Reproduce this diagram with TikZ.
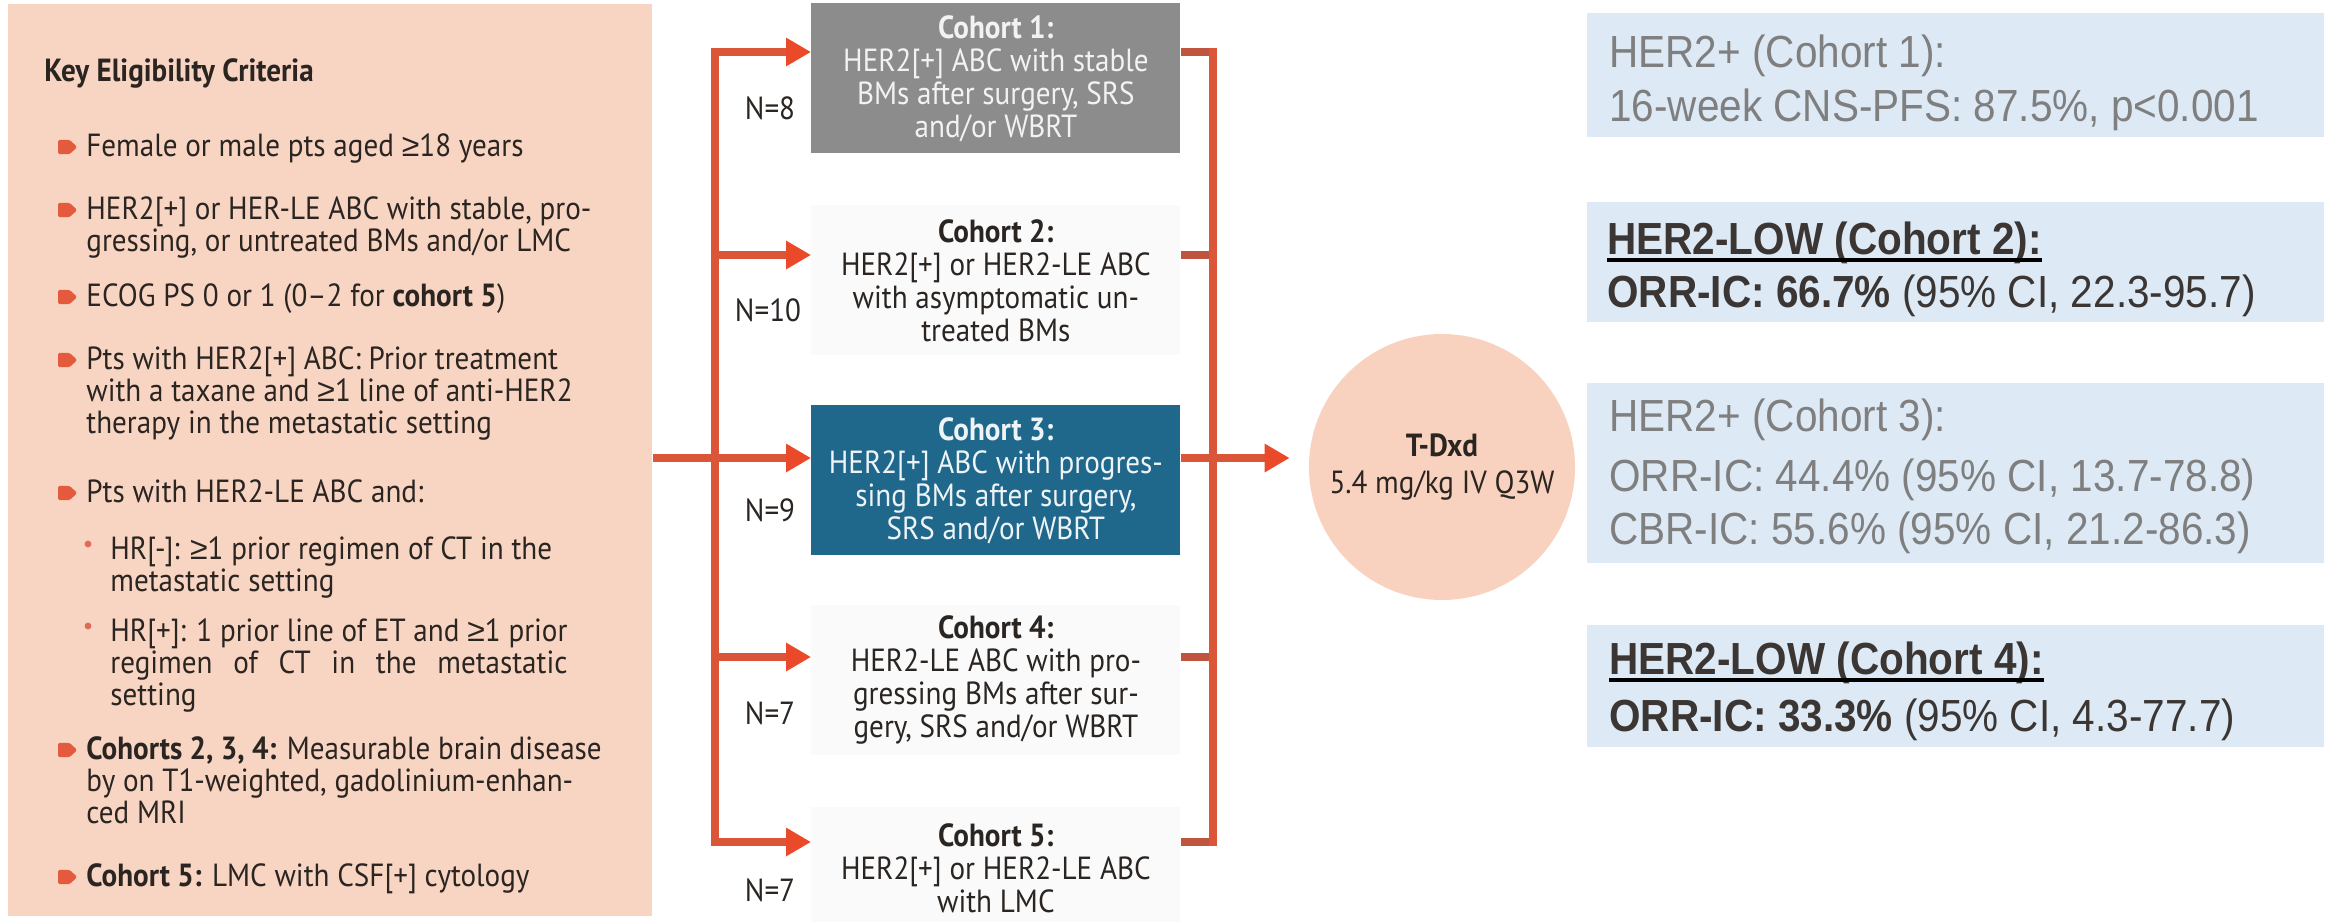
\documentclass[tikz,border=0pt]{standalone}
\usepackage{fontspec}
\setmainfont{PT Sans}[FakeStretch=0.91]
\newfontfamily\resfont{Liberation Sans}[FakeStretch=0.9]
\newfontfamily\signfont{Liberation Sans}
\newcommand\gesign{{\signfont ≥}}
\usetikzlibrary{arrows.meta}

\definecolor{panelpeach}{HTML}{F8D5C2}
\definecolor{circpeach}{HTML}{F8D2BE}
\definecolor{critink}{HTML}{2B2522}
\definecolor{bulletred}{HTML}{E35B3C}
\definecolor{dotred}{HTML}{E06A55}
\definecolor{linered}{HTML}{DB5638}
\definecolor{tipred}{HTML}{EA4A2A}
\definecolor{stubred}{HTML}{C0553F}
\definecolor{cgray}{HTML}{8C8C8C}
\definecolor{cteal}{HTML}{1F688C}
\definecolor{cpale}{HTML}{FAFAFA}
\definecolor{resblue}{HTML}{DDEAF6}
\definecolor{resgray}{HTML}{7F7F7F}
\definecolor{resdark}{HTML}{3B3633}

\newcommand\critfont{\fontsize{16pt}{16.5pt}\selectfont}
\newlength\hrpluswidth

\tikzset{
  crit/.style={anchor=base west, inner sep=0pt, text=critink, font=\critfont},
  cohortbox/.style={anchor=north west, inner sep=0pt, minimum width=184.5pt,
    minimum height=75pt, align=center, font=\critfont},
  nlabel/.style={inner sep=0pt, text=critink, font=\critfont},
  conn/.style={draw=linered, line width=4pt,
    -{Triangle[length=12.5pt,width=13.5pt,color=tipred]}},
  bus/.style={draw=linered, line width=4pt, line cap=rect},
  stub/.style={draw=stubred, line width=4pt},
  resbox/.style={fill=resblue, anchor=north west, inner sep=0pt, minimum width=368.5pt},
  restext/.style={anchor=base west, inner sep=0pt,
    font=\resfont\fontsize{22.5pt}{25pt}\selectfont},
  uline/.style={draw=black, line width=2pt},
  bulletarrow/.pic={\fill[bulletred, rounded corners=0.8pt]
    (-5pt,3.6pt) -- (0.8pt,3.6pt) -- (4.6pt,0pt) -- (0.8pt,-3.6pt) -- (-5pt,-3.6pt) -- cycle;},
  subdot/.pic={\fill[dotred] (0,0) circle (1.7pt);}
}

\begin{document}
\settowidth\hrpluswidth{\critfont HR[+]: 1 prior line of ET and \gesign1 prior}%
\begin{tikzpicture}[x=0.5pt, y=-0.5pt]
\useasboundingbox (0,0) rectangle (2343,921);
\fill[white] (0,0) rectangle (2343,921);

% eligibility panel
\node[fill=panelpeach, anchor=north west, inner sep=0pt,
      minimum width=322pt, minimum height=456pt] (panel) at (8,4) {};

\node[crit] (kt) at (44,81) {\textbf{Key Eligibility Criteria}};

\pic at (68,147) {bulletarrow};
\node[crit] (k1) at (86,156) {Female or male pts aged \gesign18 years};

\pic at (68,210) {bulletarrow};
\node[crit] (k2a) at (86,219) {HER2[+] or HER-LE ABC with stable, pro-};
\node[crit] (k2b) at (86,251) {gressing, or untreated BMs and/or LMC};

\pic at (68,297) {bulletarrow};
\node[crit] (k3) at (86,306) {ECOG PS 0 or 1 (0–2 for \textbf{cohort 5})};

\pic at (68,360) {bulletarrow};
\node[crit] (k4a) at (86,369) {Pts with HER2[+] ABC: Prior treatment};
\node[crit] (k4b) at (86,401) {with a taxane and \gesign1 line of anti-HER2};
\node[crit] (k4c) at (86,433) {therapy in the metastatic setting};

\pic at (68,493) {bulletarrow};
\node[crit] (k5) at (86,502) {Pts with HER2-LE ABC and:};

\pic at (88,544) {subdot};
\node[crit] (s1a) at (110,559) {HR[-]: \gesign1 prior regimen of CT in the};
\node[crit] (s1b) at (110,591) {metastatic setting};

\pic at (88,626) {subdot};
\node[crit] (s2a) at (110,641) {HR[+]: 1 prior line of ET and \gesign1 prior};
\node[crit] (s2b) at (110,673) {\makebox[\hrpluswidth][s]{regimen of CT in the metastatic}};
\node[crit] (s2c) at (110,705) {setting};

\pic at (68,750) {bulletarrow};
\node[crit] (k6a) at (86,759) {\textbf{Cohorts 2, 3, 4:} Measurable brain disease};
\node[crit] (k6b) at (86,791) {by on T1-weighted, gadolinium-enhan-};
\node[crit] (k6c) at (86,823) {ced MRI};

\pic at (68,877) {bulletarrow};
\node[crit] (k7) at (86,886) {\textbf{Cohort 5:} LMC with CSF[+] cytology};

% cohorts
\node[cohortbox, fill=cgray, text=white!95!black] (c1) at (811,3)
  {\textbf{Cohort 1:}\\HER2[+] ABC with stable\\BMs after surgery, SRS\\and/or WBRT};
\node[cohortbox, fill=cpale, text=critink] (c2) at (811,205)
  {\textbf{Cohort 2:}\\HER2[+] or HER2-LE ABC\\with asymptomatic un-\\treated BMs};
\node[cohortbox, fill=cteal, text=white!92!cteal] (c3) at (811,405)
  {\textbf{Cohort 3:}\\HER2[+] ABC with progres-\\sing BMs after surgery,\\SRS and/or WBRT};
\node[cohortbox, fill=cpale, text=critink] (c4) at (811,605)
  {\textbf{Cohort 4:}\\HER2-LE ABC with pro-\\gressing BMs after sur-\\gery, SRS and/or WBRT};
\node[cohortbox, fill=cpale, text=critink, minimum height=61pt] (c5) at (811,807)
  {\textbf{Cohort 5:}\\HER2[+] or HER2-LE ABC\\with LMC};

% patient numbers
\node[nlabel] (n1) at (770,108) {N=8};
\node[nlabel] (n2) at (768,310) {N=10};
\node[nlabel] (n3) at (770,510) {N=9};
\node[nlabel] (n4) at (770,713) {N=7};
\node[nlabel] (n5) at (770,890) {N=7};

% treatment
\node[circle, fill=circpeach, minimum size=133pt, inner sep=0pt, align=center,
      text=critink, font=\fontsize{16pt}{18.5pt}\selectfont] (tdxd) at (1442,467)
  {\textbf{T-Dxd}\\5.4 mg/kg IV Q3W};

% branching connectors
\foreach \k/\yy in {1/52,2/255,3/458,4/657,5/842}{
  \coordinate (bl\k) at (715,\yy);
  \coordinate (br\k) at (1213,\yy);
}
\draw[bus] (bl1) -- (bl5);
\draw[conn] (panel.east |- bl3) -- (c3.west |- bl3);
\foreach \k in {1,2,4,5}{
  \draw[conn] (bl\k) -- (c\k.west |- bl\k);
  \draw[stub] (c\k.east |- br\k) -- (br\k);
}
\draw[bus] (br1) -- (br5);
\draw[conn, shorten >=9.5pt] (c3.east |- br3) -- (tdxd.west |- br3);

% results
\node[resbox, minimum height=62pt] (r1) at (1587,13) {};
\node[restext, text=resgray] (r1a) at (1609,67) {HER2+ (Cohort 1):};
\node[restext, text=resgray] (r1b) at (1609,121) {16-week CNS-PFS: 87.5\%, p<0.001};

\node[resbox, minimum height=60pt] (r2) at (1587,202) {};
\node[restext, text=resdark] (r2a) at (1607,254) {\textbf{HER2-LOW (Cohort 2):}};
\node[restext, text=resdark] (r2b) at (1607,307) {\textbf{ORR-IC: 66.7\%} (95\% CI, 22.3-95.7)};
\draw[uline] ([yshift=-3pt]r2a.base west) -- ([yshift=-3pt]r2a.base east);

\node[resbox, minimum height=90pt] (r3) at (1587,383) {};
\node[restext, text=resgray] (r3a) at (1609,431) {HER2+ (Cohort 3):};
\node[restext, text=resgray] (r3b) at (1609,491) {ORR-IC: 44.4\% (95\% CI, 13.7-78.8)};
\node[restext, text=resgray] (r3c) at (1609,544) {CBR-IC: 55.6\% (95\% CI, 21.2-86.3)};

\node[resbox, minimum height=61pt] (r4) at (1587,625) {};
\node[restext, text=resdark] (r4a) at (1609,674) {\textbf{HER2-LOW (Cohort 4):}};
\node[restext, text=resdark] (r4b) at (1609,731) {\textbf{ORR-IC: 33.3\%} (95\% CI, 4.3-77.7)};
\draw[uline] ([yshift=-3pt]r4a.base west) -- ([yshift=-3pt]r4a.base east);
\end{tikzpicture}
\end{document}
